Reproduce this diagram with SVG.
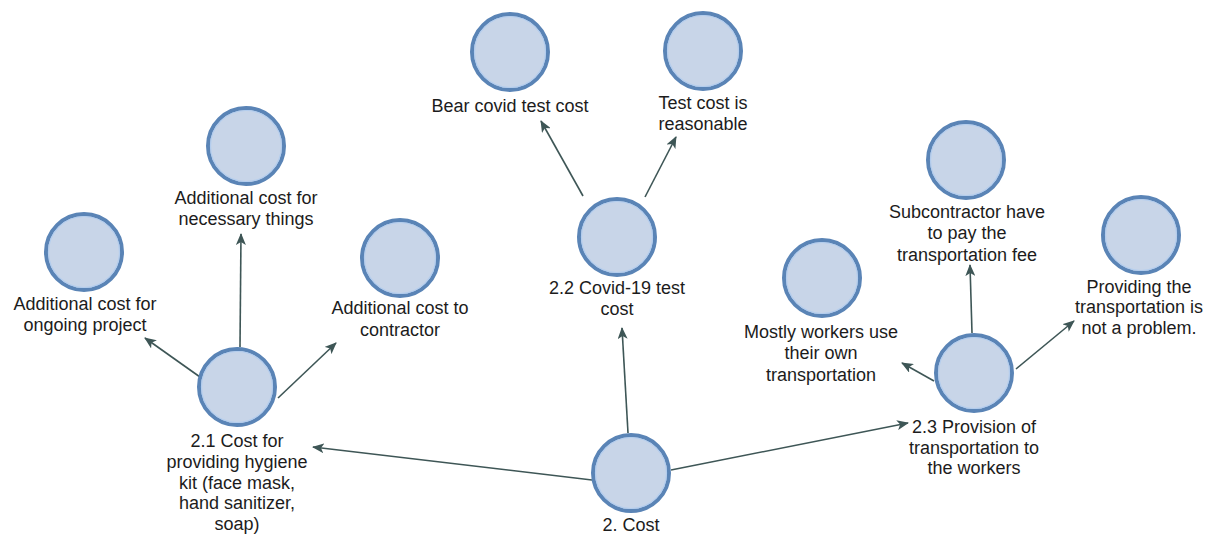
<svg xmlns="http://www.w3.org/2000/svg" width="1215" height="535" viewBox="0 0 1215 535">
<style>
.node circle.o{fill:#c8d5e8;stroke:#5a84b6;stroke-width:4}
.node circle.i{fill:none;stroke:#b3cdee;stroke-width:1.2}
.node text{font-family:"Liberation Sans",Arial,sans-serif;font-size:18px;fill:#1c1c1c;text-anchor:middle}
.edges path{stroke:#3e5656;stroke-width:1.6;fill:none;marker-end:url(#ah)}
</style>
<defs>
<marker id="ah" viewBox="0 0 12 10" refX="11" refY="5" markerWidth="12" markerHeight="10" markerUnits="userSpaceOnUse" orient="auto">
<path d="M0,0 L12,5 L0,10 L3,5 Z" fill="#3e5656"/>
</marker>
</defs>
<rect width="1215" height="535" fill="#ffffff"/>
<g class="edges" id="connectors">
<path d="M592,480 L313,447"/>
<path d="M628,433 L622,328"/>
<path d="M671,470 L908,423"/>
<path d="M200,377 L145,338"/>
<path d="M240,347 L241,234"/>
<path d="M278,398 L336,343"/>
<path d="M583,196 L541,121"/>
<path d="M645,197 L676,137"/>
<path d="M972,333 L970,265"/>
<path d="M934,381 L902,363"/>
<path d="M1016,369 L1074,321"/>
</g>
<g class="node" id="n-cost">
<circle class="o" cx="631" cy="473" r="38"/><circle class="i" cx="631" cy="473" r="35.5"/>
<text x="631" y="531">2. Cost</text>
</g>
<g class="node" id="n-21">
<circle class="o" cx="237" cy="387" r="38"/><circle class="i" cx="237" cy="387" r="35.5"/>
<text x="237" y="447">2.1 Cost for</text>
<text x="237" y="468">providing hygiene</text>
<text x="237" y="489">kit (face mask,</text>
<text x="237" y="509">hand sanitizer,</text>
<text x="237" y="530">soap)</text>
</g>
<g class="node" id="n-22">
<circle class="o" cx="617" cy="237" r="38"/><circle class="i" cx="617" cy="237" r="35.5"/>
<text x="617" y="294">2.2 Covid-19 test</text>
<text x="617" y="315">cost</text>
</g>
<g class="node" id="n-23">
<circle class="o" cx="974" cy="373" r="38"/><circle class="i" cx="974" cy="373" r="35.5"/>
<text x="974" y="433">2.3 Provision of</text>
<text x="974" y="454">transportation to</text>
<text x="974" y="474">the workers</text>
</g>
<g class="node" id="n-bear">
<circle class="o" cx="510" cy="52" r="38"/><circle class="i" cx="510" cy="52" r="35.5"/>
<text x="510" y="112">Bear covid test cost</text>
</g>
<g class="node" id="n-test">
<circle class="o" cx="703" cy="51" r="38"/><circle class="i" cx="703" cy="51" r="35.5"/>
<text x="703" y="109">Test cost is</text>
<text x="703" y="130">reasonable</text>
</g>
<g class="node" id="n-necessary">
<circle class="o" cx="246" cy="146" r="38"/><circle class="i" cx="246" cy="146" r="35.5"/>
<text x="246" y="204">Additional cost for</text>
<text x="246" y="225">necessary things</text>
</g>
<g class="node" id="n-ongoing">
<circle class="o" cx="84" cy="252" r="38"/><circle class="i" cx="84" cy="252" r="35.5"/>
<text x="85" y="310">Additional cost for</text>
<text x="85" y="331">ongoing project</text>
</g>
<g class="node" id="n-contractor">
<circle class="o" cx="400" cy="258" r="38"/><circle class="i" cx="400" cy="258" r="35.5"/>
<text x="400" y="314">Additional cost to</text>
<text x="400" y="336">contractor</text>
</g>
<g class="node" id="n-mostly">
<circle class="o" cx="822" cy="278" r="38"/><circle class="i" cx="822" cy="278" r="35.5"/>
<text x="821" y="338">Mostly workers use</text>
<text x="821" y="359">their own</text>
<text x="821" y="381">transportation</text>
</g>
<g class="node" id="n-sub">
<circle class="o" cx="966" cy="160" r="38"/><circle class="i" cx="966" cy="160" r="35.5"/>
<text x="967" y="218">Subcontractor have</text>
<text x="967" y="239">to pay the</text>
<text x="967" y="261">transportation fee</text>
</g>
<g class="node" id="n-providing">
<circle class="o" cx="1141" cy="235" r="38"/><circle class="i" cx="1141" cy="235" r="35.5"/>
<text x="1139" y="293">Providing the</text>
<text x="1139" y="313">transportation is</text>
<text x="1139" y="334">not a problem.</text>
</g>
</svg>
